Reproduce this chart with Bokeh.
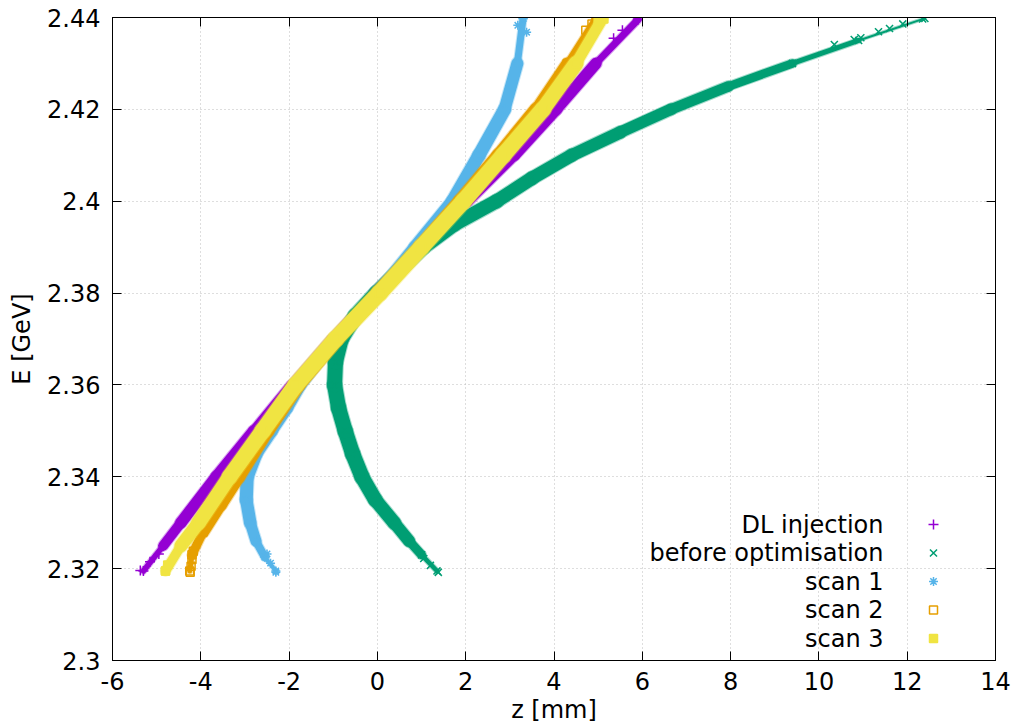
from bokeh.plotting import figure
from bokeh.models import LinearAxis, FixedTicker, CustomJSTickFormatter, ColumnDataSource
from bokeh.embed import file_html
from bokeh.resources import INLINE

# ---- beam energy vs. longitudinal position, centre line of each particle band ----
# DL injection
dl_E = [2.3195, 2.325, 2.33, 2.34, 2.35, 2.36, 2.37, 2.38, 2.39, 2.40, 2.41, 2.42, 2.43, 2.4395]
dl_z = [-5.3, -4.85, -4.45, -3.65, -2.8, -1.95, -1.05, -0.1, 0.95, 2.05, 3.1, 4.05, 4.95, 5.9]
dl_tail_z = [-5.37, -5.15, -4.95, 5.9, 5.55, 5.35]
dl_tail_E = [2.3196, 2.3215, 2.3232, 2.4397, 2.4372, 2.4355]

# before optimisation
bo_E = [2.3195, 2.323, 2.326, 2.33, 2.335, 2.34, 2.345, 2.35, 2.355, 2.36, 2.365, 2.37, 2.375,
        2.38, 2.385, 2.39, 2.395, 2.40, 2.405, 2.41, 2.415, 2.42, 2.425, 2.43, 2.435, 2.4398]
bo_z = [1.35, 1.0, 0.72, 0.38, -0.05, -0.35, -0.56, -0.73, -0.88, -0.97, -0.95, -0.82, -0.5,
        -0.02, 0.5, 1.05, 1.75, 2.7, 3.5, 4.4, 5.5, 6.65, 7.95, 9.4, 10.9, 12.4]
bo_tail_z = [1.38, 1.2, 1.05, 10.35, 10.8, 10.95, 11.35, 11.6, 11.9, 12.35]
bo_tail_E = [2.3192, 2.3207, 2.3222, 2.4341, 2.4352, 2.4356, 2.4369, 2.4376, 2.4386, 2.4397]

# scan 1
s1_E = [2.3195, 2.3225, 2.326, 2.33, 2.335, 2.34, 2.345, 2.35, 2.355, 2.36, 2.37, 2.38,
        2.39, 2.40, 2.41, 2.42, 2.43, 2.4398]
s1_z = [-2.3, -2.55, -2.75, -2.88, -2.97, -2.95, -2.75, -2.4, -2.05, -1.75, -0.95, 0.0,
        0.85, 1.7, 2.3, 2.88, 3.17, 3.3]
s1_tail_z = [-2.3, -2.42, -2.5, 3.3, 3.18, 3.38]
s1_tail_E = [2.3192, 2.3212, 2.3232, 2.4398, 2.4383, 2.4368]

# scan 2
s2_E = [2.3195, 2.323, 2.328, 2.334, 2.34, 2.35, 2.36, 2.37, 2.38, 2.39, 2.40, 2.41, 2.42, 2.43, 2.4398]
s2_z = [-4.25, -4.2, -3.95, -3.55, -3.15, -2.5, -1.8, -0.92, 0.02, 0.97, 1.88, 2.75, 3.6, 4.3, 4.95]
s2_tail_z = [-4.24, -4.22, -4.2, -4.17, 4.98, 4.86, 4.72]
s2_tail_E = [2.3192, 2.3205, 2.322, 2.3238, 2.4398, 2.4386, 2.4372]

# scan 3
s3_E = [2.3195, 2.325, 2.33, 2.34, 2.35, 2.36, 2.37, 2.38, 2.39, 2.40, 2.41, 2.42, 2.43, 2.4398]
s3_z = [-4.8, -4.45, -4.05, -3.35, -2.6, -1.85, -0.95, 0.05, 1.0, 1.95, 2.85, 3.75, 4.5, 5.1]
s3_tail_z = [-4.8, -4.75, 5.13, 5.0]
s3_tail_E = [2.3195, 2.3208, 2.4397, 2.439]

series_names = ["DL injection", "before optimisation", "scan 1", "scan 2", "scan 3"]
x_ticks = [-6, -4, -2, 0, 2, 4, 6, 8, 10, 12, 14]
y_ticks = [2.30, 2.32, 2.34, 2.36, 2.38, 2.40, 2.42, 2.44]

# ---- styling ----
FONT = "DejaVu Sans"
FS = "24px"
colors = ["#9400d3", "#009e73", "#56b4e9", "#e69f00", "#f0e442"]
markers = ["cross", "x", "asterisk", "square", "square"]
marker_px = [10, 10, 9, 8, 8]
filled = [False, False, False, False, True]
# band thickness (screen px) along each centre line
dl_px = [3, 10, 12, 13, 12, 10, 9, 9, 10, 11, 12, 13, 12, 4]
bo_px = [3, 8, 12, 14, 15, 16, 16, 16, 16, 16, 16, 16, 16, 16, 15, 15, 15, 15, 14, 14, 13, 12, 11, 8, 4, 2]
s1_px = [3, 7, 11, 13, 14, 14, 14, 13, 13, 13, 13, 13, 13, 14, 14, 14, 12, 4]
s2_px = [4, 8, 12, 14, 14, 15, 15, 15, 15, 15, 15, 15, 14, 11, 4]
s3_px = [8, 13, 15, 16, 17, 17, 17, 17, 17, 17, 17, 17, 15, 9]

L, R, T, B = 112, 21, 17, 67
W, H = 1016, 727
x0, x1, y0, y1 = -6, 14, 2.30, 2.44

p = figure(width=W, height=H, x_range=(x0, x1), y_range=(y0, y1),
           output_backend="svg", toolbar_location=None,
           min_border_left=L, min_border_right=R, min_border_top=T, min_border_bottom=B,
           background_fill_color="white", border_fill_color="white",
           outline_line_color="black", outline_line_width=1)

xt = FixedTicker(ticks=x_ticks)
yt = FixedTicker(ticks=y_ticks)
p.xgrid.ticker = xt
p.ygrid.ticker = yt
p.grid.grid_line_color = "#bcbcbc"
p.grid.grid_line_dash = "1 3"
p.grid.grid_line_width = 1

bottom = p.below[0]
left = p.left[0]
bottom.ticker = xt
left.ticker = yt
bottom.formatter = CustomJSTickFormatter(code="return tick.toFixed(0);")
left.formatter = CustomJSTickFormatter(code="return Number(tick.toFixed(2)).toString();")
bottom.axis_label = "z [mm]"
left.axis_label = "E [GeV]"
bottom.major_label_standoff = 11
left.major_label_standoff = 12
bottom.axis_label_standoff = 3
left.axis_label_standoff = 8
bottom.major_label_text_font_size = FS
left.major_label_text_font_size = FS

top = LinearAxis(ticker=xt, formatter=CustomJSTickFormatter(code="return '';"))
right = LinearAxis(ticker=yt, formatter=CustomJSTickFormatter(code="return '';"))
for ax in (top, right):
    ax.major_label_text_font_size = "0px"
    ax.major_label_standoff = 0
p.add_layout(top, "above")
p.add_layout(right, "right")

for ax in (bottom, left, top, right):
    ax.major_tick_in = 9
    ax.major_tick_out = 0
    ax.minor_tick_in = 0
    ax.minor_tick_out = 0
    ax.axis_line_color = "black"
    ax.major_tick_line_color = "black"
    ax.major_tick_line_width = 1
    ax.major_label_text_font = FONT
    ax.major_label_text_color = "black"
    ax.axis_label_text_font = FONT
    ax.axis_label_text_font_size = FS
    ax.axis_label_text_font_style = "normal"
    ax.axis_label_text_color = "black"


def band(z, E, px, color):
    # soft fringe, then the dense core
    fringe = ColumnDataSource(dict(
        xa=z[:-1], ya=E[:-1], xb=z[1:], yb=E[1:],
        w=[(a + b) / 2 + 1 for a, b in zip(px[:-1], px[1:])]))
    p.segment("xa", "ya", "xb", "yb", source=fringe, line_width="w",
              line_color=color, line_alpha=0.35, line_cap="round")
    core = ColumnDataSource(dict(
        xa=z[:-1], ya=E[:-1], xb=z[1:], yb=E[1:],
        w=[max((a + b) / 2 - 1, 1) for a, b in zip(px[:-1], px[1:])]))
    p.segment("xa", "ya", "xb", "yb", source=core, line_width="w",
              line_color=color, line_cap="round")


def points(z, E, marker, size, color, fill):
    p.scatter(z, E, marker=marker, size=size, line_color=color, line_width=1.5,
              fill_color=color if fill else None)


all_series = [
    (dl_z, dl_E, dl_px, dl_tail_z, dl_tail_E),
    (bo_z, bo_E, bo_px, bo_tail_z, bo_tail_E),
    (s1_z, s1_E, s1_px, s1_tail_z, s1_tail_E),
    (s2_z, s2_E, s2_px, s2_tail_z, s2_tail_E),
    (s3_z, s3_E, s3_px, s3_tail_z, s3_tail_E),
]
for (z, E, px, tz, tE), c, m, ms, f in zip(all_series, colors, markers, marker_px, filled):
    band(z, E, px, c)
    points(z, E, m, ms, c, f)
    points(tz, tE, m, ms, c, f)


# key: labels right-aligned, sample symbol to their right (positions in frame pixels)
def frame_to_data(px, py):
    fw = W - L - R
    fh = H - T - B
    return (x0 + (px - L) / fw * (x1 - x0), y1 - (py - T) / fh * (y1 - y0))


key_rows = [524, 552.5, 581, 609.5, 638]
for name, row, c, m, ms, f in zip(series_names, key_rows, colors, markers, marker_px, filled):
    tx, ty = frame_to_data(883, row)
    mx, my = frame_to_data(933, row)
    p.text([tx], [ty], text=[name], text_align="right", text_baseline="middle",
           text_font_size=FS, text_color="black", text_font={"value": FONT})
    points([mx], [my], m, ms, c, f)

open("out.html", "w").write(file_html(p, INLINE))
